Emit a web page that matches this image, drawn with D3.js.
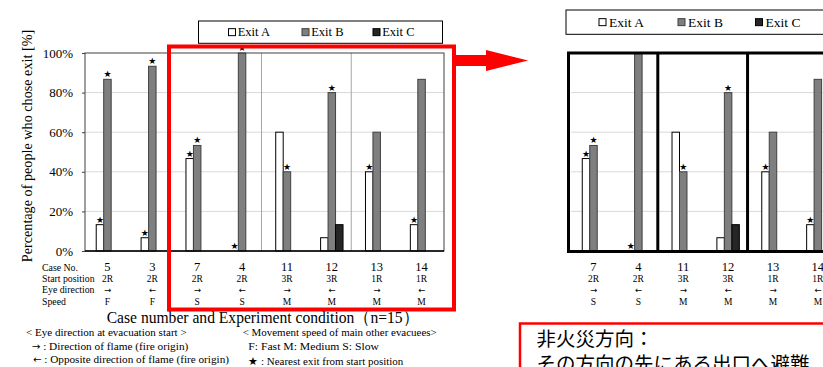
<!DOCTYPE html>
<html>
<head>
<meta charset="utf-8">
<script src="https://cdn.jsdelivr.net/npm/d3@7"></script>
<style>
  body { margin: 0; background: #fff; }
  svg { display: block; }
  text { font-family: "Liberation Serif", "Times New Roman", serif; fill: #000; }
</style>
</head>
<body>
<svg id="chart" width="823" height="367"></svg>
<script>
// data (n=15)
const cases = ["5", "3", "7", "4", "11", "12", "13", "14"];
const startPos = ["2R", "2R", "2R", "2R", "3R", "3R", "1R", "1R"];
const eyeDir = ["→", "←", "→", "←", "→", "←", "→", "←"];
const speed = ["F", "F", "S", "S", "M", "M", "M", "M"];
const exitA = [13.3, 6.7, 46.7, 0, 60, 6.7, 40, 13.3];
const exitB = [86.7, 93.3, 53.3, 100, 40, 80, 60, 86.7];
const exitC = [0, 0, 0, 0, 0, 13.3, 0, 0];
const nearestA = [1, 1, 1, 1, 0, 0, 1, 1];
const nearestB = [1, 1, 1, 1, 1, 1, 0, 0];
const nearestC = [0, 0, 0, 0, 0, 0, 0, 0];
const yTicks = [0, 20, 40, 60, 80, 100];
const zoomCases = ["7", "4", "11", "12", "13", "14"];
const groupStarts = ["11", "13"];
const rowLabels = ["Case No.", "Start position", "Eye direction", "Speed"];
const exits = ["Exit A", "Exit B", "Exit C"];

const COLORS = { "Exit A": "#ffffff", "Exit B": "#7f7f7f", "Exit C": "#262626" };
const STROKES = { "Exit A": "#000", "Exit B": "#404040", "Exit C": "#000" };
const RED = "#ff0000";
const ROW_Y = [270.5, 282.3, 293.3, 305];

const svg = d3.select("#chart");

const rows = cases.map((c, i) => ({
  c: c,
  vals: [
    { k: "Exit A", v: exitA[i], star: nearestA[i] },
    { k: "Exit B", v: exitB[i], star: nearestB[i] },
    { k: "Exit C", v: exitC[i], star: nearestC[i] }
  ],
  pos: startPos[i], eye: eyeDir[i], spd: speed[i]
}));

const y = d3.scaleLinear().domain([0, 100]).range([251, 53]);

function drawBars(g, x, data, opts) {
  const inner = d3.scaleBand().domain(exits)
    .range([x.bandwidth() * 0.25, x.bandwidth() * 0.75]);

  // gridlines
  g.append("g").selectAll("line")
    .data(yTicks.filter(t => t > 0 && t < 100))
    .enter().append("line")
    .attr("x1", x.range()[0]).attr("x2", x.range()[1])
    .attr("y1", d => y(d)).attr("y2", d => y(d))
    .attr("stroke", "#d9d9d9").attr("stroke-width", 1);

  // group separators
  g.append("g").selectAll("line")
    .data(groupStarts)
    .enter().append("line")
    .attr("x1", d => x(d) - 3).attr("x2", d => x(d) - 3)
    .attr("y1", y(100)).attr("y2", y(0))
    .attr("stroke", opts.sepColor).attr("stroke-width", opts.sepWidth);

  const grp = g.append("g").selectAll("g")
    .data(data)
    .enter().append("g")
    .attr("transform", d => "translate(" + x(d.c) + ",0)");

  grp.selectAll("rect")
    .data(d => d.vals)
    .enter().append("rect")
    .attr("x", d => inner(d.k))
    .attr("y", d => y(d.v))
    .attr("width", inner.bandwidth())
    .attr("height", d => y(0) - y(d.v))
    .attr("fill", d => COLORS[d.k])
    .attr("stroke", d => STROKES[d.k])
    .attr("stroke-width", 1);

  grp.selectAll("text.star")
    .data(d => d.vals.filter(v => v.star))
    .enter().append("text")
    .attr("class", "star")
    .attr("x", d => inner(d.k) + inner.bandwidth() / 2)
    .attr("y", d => y(d.v) - 2)
    .attr("text-anchor", "middle")
    .style("font-family", "DejaVu Sans")
    .style("font-size", "9px")
    .text("★");

  // x condition labels
  const lab = g.append("g").selectAll("g")
    .data(data)
    .enter().append("g")
    .attr("transform", d => "translate(" + (x(d.c) + x.bandwidth() / 2) + ",0)");
  lab.append("text").attr("y", ROW_Y[0]).attr("text-anchor", "middle")
    .style("font-size", "12.5px").text(d => d.c);
  lab.append("text").attr("y", ROW_Y[1]).attr("text-anchor", "middle")
    .style("font-size", "9.5px").text(d => d.pos);
  lab.append("text").attr("y", ROW_Y[2] - 0.5).attr("text-anchor", "middle")
    .style("font-family", "DejaVu Sans")
    .style("font-size", "8.5px").text(d => d.eye);
  lab.append("text").attr("y", ROW_Y[3]).attr("text-anchor", "middle")
    .style("font-size", "9.5px").text(d => d.spd);
}

function drawLegend(g, box, itemX, textGap, fontSize) {
  g.append("rect").attr("x", box[0]).attr("y", box[1]).attr("width", box[2]).attr("height", box[3])
    .attr("fill", "#fff").attr("stroke", "#000").attr("stroke-width", 1);
  const cy = box[1] + box[3] / 2;
  const it = g.selectAll("g.leg").data(exits).enter().append("g")
    .attr("transform", (d, i) => "translate(" + itemX[i] + "," + cy + ")");
  it.append("rect").attr("x", 0.5).attr("y", -3.5).attr("width", 7).attr("height", 7)
    .attr("fill", d => COLORS[d]).attr("stroke", d => STROKES[d]).attr("stroke-width", 1);
  it.append("text").attr("x", textGap).attr("y", fontSize * 0.33)
    .style("font-size", fontSize + "px").text(d => d);
}

// ---------- left chart ----------
const xL = d3.scaleBand().domain(cases).range([85, 444]);
const left = svg.append("g");
drawBars(left, xL, rows, { sepColor: "#a6a6a6", sepWidth: 1 });

// frame
left.append("rect").attr("x", 85).attr("y", y(100))
  .attr("width", 444 - 85).attr("height", y(0) - y(100))
  .attr("fill", "none").attr("stroke", "#404040").attr("stroke-width", 1);
left.append("line").attr("x1", 85).attr("x2", 444).attr("y1", y(0)).attr("y2", y(0))
  .attr("stroke", "#000").attr("stroke-width", 1.5);

const yAxis = d3.axisLeft(y).tickValues(yTicks).tickSize(3).tickPadding(9)
  .tickFormat(d => d + "%");
left.append("g").attr("transform", "translate(85,0)").call(yAxis)
  .call(g => g.select(".domain").remove())
  .call(g => g.selectAll("line").attr("stroke", "#404040"))
  .call(g => g.selectAll("text").style("font-family", "Liberation Serif")
    .style("font-size", "13px").attr("fill", "#000"));

left.append("text")
  .attr("transform", "translate(32,146) rotate(-90)")
  .attr("text-anchor", "middle")
  .style("font-size", "14.2px")
  .text("Percentage of people who chose exit [%]");

left.selectAll("text.row").data(rowLabels).enter().append("text")
  .attr("x", 42).attr("y", (d, i) => ROW_Y[i])
  .style("font-size", "9.8px").text(d => d);

left.append("text").attr("x", 106.7).attr("y", 322.5)
  .attr("textLength", 312).attr("lengthAdjust", "spacingAndGlyphs")
  .style("font-size", "16.5px").text("Case number and Experiment condition（n=15）");

drawLegend(left, [198.5, 21, 244, 22.3], [228, 301.5, 372.5], 9.7, 12.5);

// notes
const notes = [
  { x: 26, y: 336, w: 160.7, a: "", t: "< Eye direction at evacuation start >" },
  { x: 31.7, y: 349.5, w: 156.6, a: "→", t: " : Direction of flame (fire origin)" },
  { x: 33, y: 363, w: 196, a: "←", t: " : Opposite direction of flame (fire origin)" },
  { x: 242.7, y: 336, w: 194, a: "", t: "< Movement speed of main other evacuees>" },
  { x: 248.3, y: 349.5, w: 130.7, a: "", t: "F: Fast  M: Medium  S: Slow" },
  { x: 248.3, y: 365, w: 155, a: "", t: "★ : Nearest exit from start position" }
];
const noteText = left.selectAll("text.note").data(notes).enter().append("text")
  .attr("x", d => d.x).attr("y", d => d.y)
  .attr("textLength", d => d.w).attr("lengthAdjust", "spacingAndGlyphs")
  .style("font-size", "11px");
noteText.append("tspan").style("font-family", "DejaVu Sans").style("font-size", "10px")
  .text(d => d.a);
noteText.append("tspan").text(d => d.t);

// red highlight box + arrow
left.append("rect").attr("x", 169).attr("y", 46.5).attr("width", 285).attr("height", 263)
  .attr("fill", "none").attr("stroke", RED).attr("stroke-width", 4);
left.append("path")
  .attr("d", "M456,55 L486,55 L486,50 L528,60.5 L486,71 L486,66 L456,66 Z")
  .attr("fill", RED);

// ---------- right zoomed panel ----------
const shift = 396.3;
const xR = d3.scaleBand().domain(zoomCases)
  .range([xL("7") + shift, xL("7") + shift + zoomCases.length * xL.step()]);
const right = svg.append("g");
svg.append("defs").append("clipPath").attr("id", "rclip")
  .append("rect").attr("x", 560).attr("y", 52).attr("width", 300).attr("height", 315);
const rightInner = right.append("g").attr("clip-path", "url(#rclip)");
drawBars(rightInner, xR, rows.filter(r => zoomCases.includes(r.c)),
  { sepColor: "#000", sepWidth: 3 });

right.append("rect").attr("x", 568.5).attr("y", y(100))
  .attr("width", 300).attr("height", y(0) - y(100) + 0.5)
  .attr("fill", "none").attr("stroke", "#000").attr("stroke-width", 3);

drawLegend(right, [566, 10, 300, 24.3], [598.5, 677.5, 755], 10.6, 13.5);

// Japanese note
right.append("rect").attr("x", 520).attr("y", 323.5).attr("width", 320).attr("height", 60)
  .attr("fill", "#fff").attr("stroke", RED).attr("stroke-width", 2.5);
right.append("text").attr("x", 536.5).attr("y", 346)
  .style("font-family", "Noto Sans CJK JP").style("font-size", "19.5px")
  .text("非火災方向：");
right.append("text").attr("x", 536.5).attr("y", 371)
  .style("font-family", "Noto Sans CJK JP").style("font-size", "19.5px")
  .text("その方向の先にある出口へ避難");
</script>
</body>
</html>
